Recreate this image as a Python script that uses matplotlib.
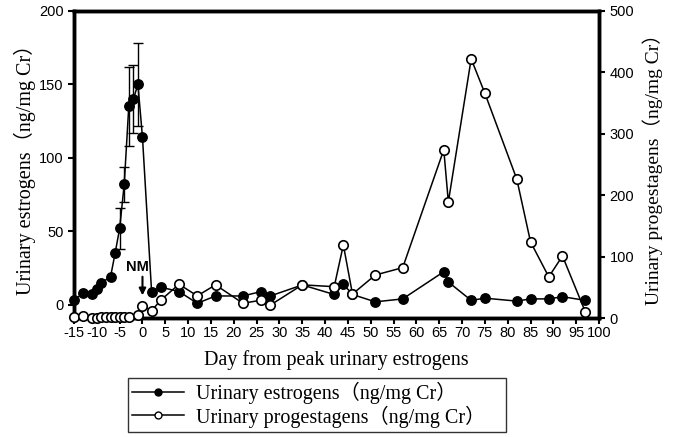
import matplotlib
matplotlib.use("Agg")
import matplotlib.pyplot as plt
from matplotlib.lines import Line2D

plt.rcParams["axes.unicode_minus"] = False

# ---- data ----
est_days = [-15, -13, -11, -10, -9, -7, -6, -5, -4, -3, -2, -1, 0, 2, 4, 8, 12, 16, 22, 26, 28,
            35, 42, 44, 46, 51, 57, 66, 67, 72, 75, 82, 85, 89, 92, 97]
est_vals = [3, 8, 7.5, 11, 15, 19, 35, 52, 82, 135, 140, 150, 114, 8.7, 12, 9, 1, 6, 6, 9, 6,
            13.5, 7, 14, 7, 2, 4, 22.5, 15.5, 3, 4.5, 2.5, 4, 4, 5.5, 3]
err_days = [-5, -4, -3, -2, -1]
err_vals = [14, 12, 27, 23, 28]

prog_days = [-15, -13, -11, -10, -9, -8, -7, -6, -5, -4, -3, -1, 0, 2, 4, 8, 12, 16, 22, 26, 28,
             35, 42, 44, 46, 51, 57, 66, 67, 72, 75, 82, 85, 89, 92, 97]
prog_vals = [2, 4, 0, 0, 2, 1, 1, 1, 1, 1, 1, 5, 20, 12, 29, 55, 36, 54, 24, 29, 21,
             54, 51, 119, 39, 70, 82, 274, 189, 422, 366, 226, 124, 67, 101, 10]

x_ticks = list(range(-15, 101, 5))
left_ticks = [0, 50, 100, 150, 200]
right_ticks = [0, 100, 200, 300, 400, 500]

legend_labels = ["Urinary estrogens（ng/mg Cr）", "Urinary progestagens（ng/mg Cr）"]
serif = ["Liberation Serif", "Noto Sans CJK SC"]
sans = "Liberation Sans"

fig = plt.figure(figsize=(6.75, 4.37), dpi=100)
ax = fig.add_axes([74/675, 1-318/437, (599-74)/675, (318-11)/437])
ax2 = ax.twinx()

# estrogens
ax.plot(est_days, est_vals, color="black", lw=1.1, marker="o", ms=6.8,
        mfc="black", mec="black", zorder=3, clip_on=False)
err_means = [est_vals[est_days.index(d)] for d in err_days]
ax.errorbar(err_days, err_means, yerr=err_vals, fmt="none", ecolor="black",
            elinewidth=1.0, capsize=3.5, capthick=1.0, zorder=2)

# progestagens
ax2.plot(prog_days, prog_vals, color="black", lw=1.1, marker="o", ms=6.8,
         mfc="white", mec="black", mew=1.2, zorder=3, clip_on=False)

ax.set_xlim(-15, 100)
ax.set_ylim(-9, 200)
ax2.set_ylim(0, 500)
ax.set_xticks(x_ticks)
ax.set_yticks(left_ticks)
ax2.set_yticks(right_ticks)

for a in (ax, ax2):
    for s in a.spines.values():
        s.set_linewidth(2.5)
    a.tick_params(direction="out", width=1.5, length=4, labelsize=10.5)
    for lab in a.get_xticklabels() + a.get_yticklabels():
        lab.set_family(sans)

ax.tick_params(axis="x", pad=2)
ax.set_xlabel("Day from peak urinary estrogens", family=serif, fontsize=14.5, labelpad=7)
ax.set_ylabel("Urinary estrogens（ng/mg Cr）", family=serif, fontsize=14.5, labelpad=2)
ax2.set_ylabel("Urinary progestagens（ng/mg Cr）", family=serif, fontsize=14, labelpad=6)

# NM annotation
ax.annotate("", xy=(0, 4.5), xytext=(0, 21),
            arrowprops=dict(arrowstyle="-|>", color="black", lw=1.5, mutation_scale=10))
ax.text(-1.2, 25.5, "NM", family=sans, fontweight="bold", fontsize=10.5,
        ha="center", va="center")

handles = [Line2D([], [], color="black", lw=1.1, marker="o", ms=5, mfc="black", mec="black"),
           Line2D([], [], color="black", lw=1.1, marker="o", ms=5, mfc="white", mec="black")]
leg = fig.legend(handles, legend_labels, loc="upper left", mode="expand",
                 bbox_to_anchor=(128/675, 1-435/437, 378/675, 57/437),
                 prop={"family": serif, "size": 14.5},
                 frameon=True, fancybox=False, edgecolor="black", handlelength=2.6,
                 borderpad=0.2, labelspacing=0.05, handletextpad=0.6, borderaxespad=0)
leg.get_frame().set_linewidth(1.0)

fig.savefig("out.png", dpi=100)
